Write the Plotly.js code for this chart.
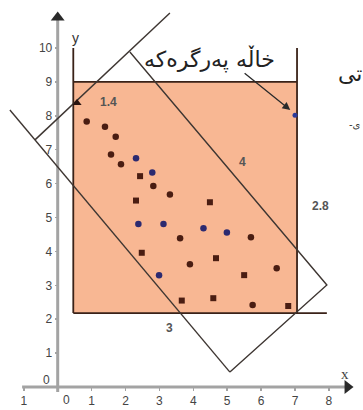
<!DOCTYPE html>
<html>
<head>
<meta charset="utf-8">
<script src="https://cdn.plot.ly/plotly-3.0.1.min.js"></script>
<style>
  html, body { margin: 0; padding: 0; background: #ffffff; }
  #chart { width: 363px; height: 410px; }
</style>
</head>
<body>
<div id="chart"></div>
<script>
// Sample points, grouped by how they are drawn
const darkRoundX  = [0.855, 1.395, 1.711, 1.572, 1.867, 2.82, 3.31, 3.61, 3.90, 5.70, 6.46, 5.75];
const darkRoundY  = [7.83, 7.68, 7.38, 6.86, 6.57, 5.93, 5.68, 4.39, 3.62, 4.42, 3.50, 2.42];
const darkSquareX = [2.43, 2.31, 4.49, 2.48, 3.66, 4.67, 4.59, 5.50, 6.80];
const darkSquareY = [6.22, 5.50, 5.45, 3.96, 2.55, 3.80, 2.62, 3.30, 2.39];
const blueX = [2.31, 2.79, 2.38, 3.12, 2.99, 4.30, 4.99];
const blueY = [6.75, 6.33, 4.81, 4.81, 3.30, 4.68, 4.56];
// the two extreme points
const extremeX = [7.0];
const extremeY = [8.02];
const cornerPointX = [0.57];
const cornerPointY = [8.38];

// axis-aligned window: [left, right], [bottom, top], and frame top
const windowX = [0.46, 7.06];
const windowY = [2.18, 9.0];
const frameTopY = 10.0;
const baseLineEndX = 7.94;

// rotated box corners: left, top, right, bottom
const boxCornerX = [-0.67, 2.13, 7.94, 5.08];
const boxCornerY = [7.29, 9.88, 3.01, 0.44];
// where the two sides through the left corner run out
const sideEndX = [-1.41, 3.31];
const sideEndY = [8.17, 11.03];

// axis ticks
const xTickVals = [-1, 1, 2, 3, 4, 5, 6, 7, 8];
const xTickText = ['1', '1', '2', '3', '4', '5', '6', '7', '8'];
const yTickVals = [1, 2, 3, 4, 5, 6, 7, 8, 9, 10];
const yTickText = ['1', '2', '3', '4', '5', '6', '7', '8', '9', '10'];

// visible coordinate span
const xRange = [-1.702, 9.006];
const yRange = [-0.678, 11.416];
const axisStartX = -1.05, axisEndX = 8.55;
const axisStartY = -0.15, axisEndY = 10.9;

const [L, T, R, B] = [0, 1, 2, 3];
const boxLineX = [
  sideEndX[0], boxCornerX[B], null,
  boxCornerX[L], sideEndX[1], null,
  boxCornerX[T], boxCornerX[R], boxCornerX[B]
];
const boxLineY = [
  sideEndY[0], boxCornerY[B], null,
  boxCornerY[L], sideEndY[1], null,
  boxCornerY[T], boxCornerY[R], boxCornerY[B]
];

const frameX = [windowX[0], windowX[0], null, windowX[1], windowX[1], null, windowX[0], windowX[1], null, windowX[0], baseLineEndX];
const frameY = [windowY[0], frameTopY, null, windowY[0], frameTopY, null, windowY[1], windowY[1], null, windowY[0], windowY[0]];

const brown = '#4a1d12';
const navy = '#2c2a70';
const lineCol = '#3e3632';
const textCol = '#444444';
const font = 'Liberation Sans, Arial, sans-serif';
const arabicFont = 'DejaVu Sans, Noto Sans, sans-serif';

const traces = [
  // gray coordinate axes
  { x: [axisStartX, axisEndX], y: [0, 0], mode: 'lines', line: { color: '#a3a3a3', width: 3 }, hoverinfo: 'skip' },
  { x: [0, 0], y: [axisStartY, axisEndY], mode: 'lines', line: { color: '#a3a3a3', width: 3 }, hoverinfo: 'skip' },
  { x: [axisEndX], y: [0], mode: 'markers', marker: { symbol: 'triangle-right', size: 12, color: '#2a2a2a' }, hoverinfo: 'skip' },
  { x: [0], y: [axisEndY], mode: 'markers', marker: { symbol: 'triangle-up', size: 12, color: '#2a2a2a' }, hoverinfo: 'skip' },
  // window frame
  { x: frameX, y: frameY, mode: 'lines', line: { color: '#3a2218', width: 1.8 }, hoverinfo: 'skip' },
  // rotated box
  { x: boxLineX, y: boxLineY, mode: 'lines', line: { color: lineCol, width: 1.4 }, hoverinfo: 'skip' },
  // points
  { x: darkRoundX, y: darkRoundY, mode: 'markers', marker: { symbol: 'circle', size: 6.5, color: brown } },
  { x: darkSquareX, y: darkSquareY, mode: 'markers', marker: { symbol: 'square', size: 6, color: brown } },
  { x: blueX, y: blueY, mode: 'markers', marker: { symbol: 'circle', size: 6.5, color: navy } },
  { x: extremeX, y: extremeY, mode: 'markers', marker: { symbol: 'circle', size: 5, color: '#2a3a9a' } },
  { x: cornerPointX, y: cornerPointY, mode: 'markers', marker: { symbol: 'triangle-up', size: 8, color: '#2a1410' } }
];

const ann = (text, x, y, opts) => Object.assign({
  text, x, y, xref: 'x', yref: 'y', showarrow: false,
  font: { family: font, size: 12, color: textCol }
}, opts || {});

const annotations = [
  ann('y', 0.52, 10.3, { font: { family: font, size: 14, color: '#333' } }),
  ann('x', 8.48, 0.37, { font: { family: 'Liberation Serif, serif', size: 15, color: '#444' } }),
  ann('0', -0.32, 0.21),
  ann('0', 0.27, -0.38),
  ann('<b>1.4</b>', 1.51, 8.41, { font: { family: font, size: 12, color: '#555' } }),
  ann('<b>4</b>', 5.44, 6.64, { font: { family: font, size: 12, color: '#555' } }),
  ann('<b>2.8</b>', 7.74, 5.34, { font: { family: font, size: 12, color: '#555' } }),
  ann('<b>3</b>', 3.31, 1.74, { font: { family: font, size: 12, color: '#555' } }),
  ann('خاڵە پەرگرەکە', 4.49, 9.68, { font: { family: arabicFont, size: 22, color: '#222' } }),
  ann('تی', 8.22, 9.25, { xanchor: 'left', font: { family: arabicFont, size: 22, color: '#222' } }),
  ann('-ی', 9.0, 7.73, { xanchor: 'right', font: { family: arabicFont, size: 10, color: '#333' } }),
  // pointer from the caption to the extreme point
  { x: 6.86, y: 8.17, ax: 5.47, ay: 9.29, xref: 'x', yref: 'y', axref: 'x', ayref: 'y',
    showarrow: true, arrowhead: 2, arrowsize: 1.2, arrowwidth: 1.3, arrowcolor: '#2a2a2a', text: '' }
];

const layout = {
  width: 363, height: 410,
  margin: { l: 0, r: 0, t: 0, b: 0 },
  paper_bgcolor: '#ffffff', plot_bgcolor: '#ffffff',
  showlegend: false,
  xaxis: {
    range: xRange, showgrid: false, zeroline: false, showline: false,
    anchor: 'free', position: (0 - yRange[0]) / (yRange[1] - yRange[0]),
    tickvals: xTickVals, ticktext: xTickText,
    ticks: 'outside', ticklen: 3, tickcolor: '#a3a3a3', tickwidth: 1.5,
    tickfont: { family: font, size: 12, color: textCol }, fixedrange: true
  },
  yaxis: {
    range: yRange, showgrid: false, zeroline: false, showline: false,
    anchor: 'free', position: (0 - xRange[0]) / (xRange[1] - xRange[0]),
    tickvals: yTickVals, ticktext: yTickText,
    ticks: 'outside', ticklen: 3, tickcolor: '#a3a3a3', tickwidth: 1.5,
    tickfont: { family: font, size: 12, color: textCol }, fixedrange: true
  },
  shapes: [
    { type: 'rect', xref: 'x', yref: 'y', x0: windowX[0], x1: windowX[1], y0: windowY[0], y1: windowY[1],
      fillcolor: '#f8b793', line: { width: 0 }, layer: 'below' }
  ],
  annotations
};

Plotly.newPlot('chart', traces, layout, { staticPlot: true, displayModeBar: false });
</script>
</body>
</html>
